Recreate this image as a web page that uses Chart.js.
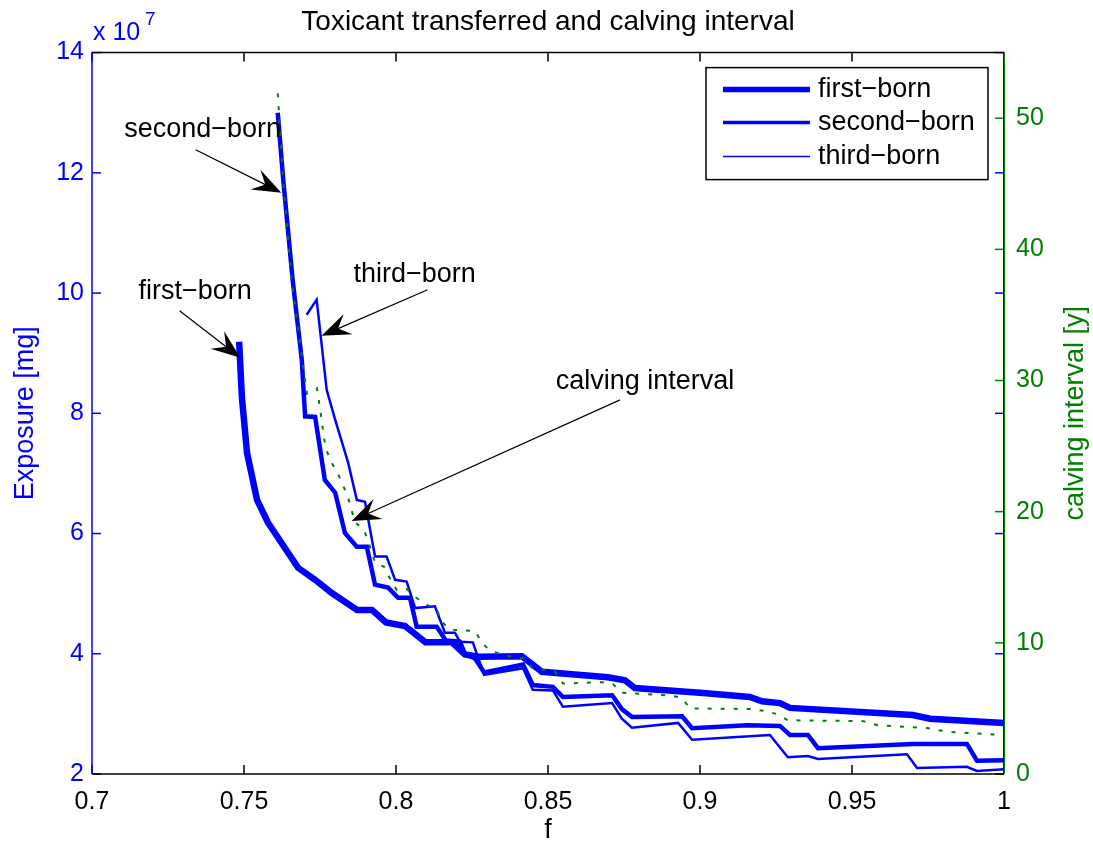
<!DOCTYPE html>
<html>
<head>
<meta charset="utf-8">
<script src="https://cdn.jsdelivr.net/npm/chart.js@4.4.1/dist/chart.umd.min.js"></script>
<style>
  html, body { margin: 0; background: #fff; }
  #wrap { width: 1093px; height: 847px; }
</style>
</head>
<body>
<div id="wrap"><canvas id="c" width="1093" height="847"></canvas></div>
<script>
const FONT = "'Liberation Sans', Arial, Helvetica, sans-serif";
const BLUE = '#0000ff';
const GREEN = '#008000';

const xTicks = [0.7, 0.75, 0.8, 0.85, 0.9, 0.95, 1];
const exposureTicks = [2, 4, 6, 8, 10, 12, 14];
const calvingTicks = [0, 10, 20, 30, 40, 50];

// exposure values are in units of 10^7 mg (axis shows "x 10^7")
const firstF = [0.7484, 0.7493, 0.751, 0.7543, 0.7579, 0.7678, 0.7734, 0.7789, 0.7872, 0.7921, 0.7967, 0.803, 0.804, 0.8097, 0.8184, 0.8227, 0.827, 0.8414, 0.848, 0.8697, 0.8753, 0.8786, 0.9, 0.9164, 0.9204, 0.9263, 0.9296, 0.97, 0.9757, 1.0];
const firstExp = [9.19, 8.27, 7.34, 6.56, 6.18, 5.43, 5.23, 5.01, 4.73, 4.73, 4.52, 4.46, 4.42, 4.19, 4.19, 3.99, 3.95, 3.96, 3.70, 3.61, 3.56, 3.43, 3.35, 3.28, 3.21, 3.18, 3.10, 2.98, 2.92, 2.85];

const secondF = [0.7611, 0.7629, 0.766, 0.769, 0.7701, 0.7734, 0.7766, 0.78, 0.7832, 0.7871, 0.7904, 0.7931, 0.7974, 0.8007, 0.8046, 0.8068, 0.8134, 0.8164, 0.821, 0.8227, 0.826, 0.829, 0.8418, 0.845, 0.8516, 0.8549, 0.8711, 0.8743, 0.8776, 0.8941, 0.8974, 0.9155, 0.9263, 0.9296, 0.9355, 0.9388, 0.97, 0.9878, 0.9911, 1.0];
const secondExp = [13.0, 11.89, 10.22, 8.89, 7.95, 7.94, 6.89, 6.68, 6.01, 5.78, 5.78, 5.15, 5.10, 4.93, 4.93, 4.45, 4.45, 4.22, 4.20, 4.00, 3.92, 3.69, 3.82, 3.48, 3.45, 3.28, 3.31, 3.08, 2.95, 2.96, 2.76, 2.81, 2.80, 2.65, 2.65, 2.43, 2.50, 2.50, 2.22, 2.23];

const thirdF = [0.7706, 0.7739, 0.7761, 0.7772, 0.78, 0.7843, 0.7871, 0.7898, 0.7931, 0.7969, 0.7997, 0.8035, 0.8063, 0.8128, 0.8161, 0.8194, 0.821, 0.8253, 0.8265, 0.829, 0.8418, 0.845, 0.8516, 0.8549, 0.8711, 0.8743, 0.8776, 0.8928, 0.8974, 0.923, 0.9289, 0.9355, 0.9388, 0.9681, 0.9714, 0.9878, 0.9911, 1.0];
const thirdExp = [9.64, 9.89, 8.89, 8.39, 7.89, 7.17, 6.56, 6.53, 5.62, 5.62, 5.23, 5.20, 4.76, 4.79, 4.35, 4.35, 4.20, 4.19, 4.01, 3.65, 3.76, 3.40, 3.39, 3.12, 3.18, 2.92, 2.77, 2.85, 2.57, 2.65, 2.28, 2.30, 2.25, 2.33, 2.10, 2.12, 2.05, 2.08];

// calving interval in years (right axis)
const calvF = [0.7611, 0.7629, 0.7657, 0.7707, 0.774, 0.7753, 0.7763, 0.7773, 0.7789, 0.7809, 0.7826, 0.7842, 0.7865, 0.7895, 0.7921, 0.7931, 0.7961, 0.798, 0.8003, 0.8036, 0.8069, 0.8102, 0.8135, 0.8151, 0.8178, 0.826, 0.8283, 0.8309, 0.8385, 0.8424, 0.8447, 0.8523, 0.8549, 0.8678, 0.8714, 0.8743, 0.8908, 0.8941, 0.8967, 0.9174, 0.9214, 0.9253, 0.9289, 0.9536, 0.9582, 0.9747, 0.9783, 0.9829, 1.0];
const calvYears = [51.9, 45.2, 37.6, 29.0, 29.4, 27.4, 25.6, 24.6, 23.7, 22.9, 22.0, 21.1, 19.2, 18.6, 16.9, 16.1, 15.8, 14.9, 14.0, 14.1, 13.4, 12.9, 12.5, 11.6, 11.0, 10.9, 10.0, 9.4, 8.9, 8.8, 8.1, 7.8, 6.9, 7.0, 6.85, 6.2, 5.97, 5.8, 5.0, 4.95, 4.8, 4.57, 4.1, 4.03, 3.73, 3.5, 3.35, 3.2, 2.97];

const pts = (xs, ys) => xs.map((x, i) => ({ x: x, y: ys[i] }));
const fixTicks = list => scale => { scale.ticks = list.map(v => ({ value: v })); };

// text + arrow annotations, placed in data coordinates (f, exposure)
const notes = [
  { text: 'second\u2212born', tx: 0.7364, ty: 12.72, x0: 0.7341, y0: 12.385, x1: 0.7623, y1: 11.67 },
  { text: 'third\u2212born', tx: 0.8061, ty: 10.30, x0: 0.8104, y0: 10.055, x1: 0.7755, y1: 9.29 },
  { text: 'first\u2212born', tx: 0.7339, ty: 10.02, x0: 0.7288, y0: 9.706, x1: 0.7488, y1: 8.924 },
  { text: 'calving interval', tx: 0.8819, ty: 8.52, x0: 0.8737, y0: 8.224, x1: 0.7854, y1: 6.21 }
];

function seg(ctx, x0, y0, x1, y1) {
  ctx.beginPath(); ctx.moveTo(x0, y0); ctx.lineTo(x1, y1); ctx.stroke();
}

function arrow(ctx, x0, y0, x1, y1) {
  const ang = Math.atan2(y1 - y0, x1 - x0);
  const L = 29, W = 11, N = 18;
  const c = Math.cos(ang), s = Math.sin(ang);
  ctx.strokeStyle = '#000'; ctx.lineWidth = 1.2;
  seg(ctx, x0, y0, x1 - c * N, y1 - s * N);
  ctx.fillStyle = '#000';
  ctx.beginPath();
  ctx.moveTo(x1, y1);
  ctx.lineTo(x1 - c * L - s * W, y1 - s * L + c * W);
  ctx.lineTo(x1 - c * N, y1 - s * N);
  ctx.lineTo(x1 - c * L + s * W, y1 - s * L - c * W);
  ctx.closePath();
  ctx.fill();
}

const frame = {
  id: 'frame',
  afterDraw(chart) {
    const { ctx, chartArea: a, scales } = chart;
    const tl = 9;
    ctx.save();

    // inward tick marks
    ctx.lineWidth = 1.5;
    ctx.strokeStyle = '#000';
    xTicks.forEach(v => {
      const px = scales.x.getPixelForValue(v);
      seg(ctx, px, a.bottom, px, a.bottom - tl);
      seg(ctx, px, a.top, px, a.top + tl);
    });
    ctx.strokeStyle = BLUE;
    exposureTicks.forEach(v => {
      const py = scales.y.getPixelForValue(v);
      seg(ctx, a.left, py, a.left + tl, py);
      seg(ctx, a.right, py, a.right - tl, py);
    });
    ctx.strokeStyle = GREEN;
    calvingTicks.forEach(v => {
      const py = scales.y1.getPixelForValue(v);
      seg(ctx, a.right, py, a.right - tl, py);
    });

    // box
    ctx.strokeStyle = '#000';
    seg(ctx, a.left, a.top, a.right, a.top);
    seg(ctx, a.left, a.bottom, a.right, a.bottom);
    ctx.strokeStyle = BLUE;
    seg(ctx, a.left, a.top, a.left, a.bottom);
    ctx.lineWidth = 1;
    seg(ctx, a.right - 0.5, a.top, a.right - 0.5, a.bottom);
    ctx.strokeStyle = GREEN;
    seg(ctx, a.right + 0.5, a.top, a.right + 0.5, a.bottom);

    // exponent label
    ctx.fillStyle = BLUE;
    ctx.textBaseline = 'alphabetic';
    ctx.textAlign = 'left';
    ctx.font = '25px ' + FONT;
    ctx.fillText('x 10', a.left + 1, a.top - 13);
    ctx.font = '19px ' + FONT;
    ctx.fillText('7', a.left + 53, a.top - 28);

    // right axis title
    ctx.save();
    ctx.translate(1076, (a.top + a.bottom) / 2);
    ctx.rotate(-Math.PI / 2);
    ctx.fillStyle = GREEN;
    ctx.font = '27px ' + FONT;
    ctx.textAlign = 'center';
    ctx.textBaseline = 'middle';
    ctx.fillText('calving interval [y]', 0, 0);
    ctx.restore();

    // legend
    const bx0 = a.right - 298, by0 = a.top + 15, bx1 = a.right - 16, by1 = a.top + 127;
    ctx.fillStyle = '#fff';
    ctx.fillRect(bx0, by0, bx1 - bx0, by1 - by0);
    ctx.strokeStyle = '#000';
    ctx.lineWidth = 1.5;
    ctx.strokeRect(bx0, by0, bx1 - bx0, by1 - by0);
    const rows = [22, 55, 89];
    ctx.font = '27px ' + FONT;
    ctx.textBaseline = 'middle';
    ctx.textAlign = 'left';
    chart.data.datasets.slice(0, 3).forEach((ds, i) => {
      const y = by0 + rows[i];
      ctx.strokeStyle = ds.borderColor;
      ctx.lineWidth = ds.borderWidth - 1;
      seg(ctx, bx0 + 17, y, bx0 + 104, y);
      ctx.fillStyle = '#000';
      ctx.fillText(ds.label, bx0 + 112, y);
    });

    // annotations
    ctx.font = '27px ' + FONT;
    ctx.textAlign = 'center';
    ctx.textBaseline = 'middle';
    notes.forEach(n => {
      ctx.fillStyle = '#000';
      ctx.fillText(n.text, scales.x.getPixelForValue(n.tx), scales.y.getPixelForValue(n.ty));
      arrow(ctx,
        scales.x.getPixelForValue(n.x0), scales.y.getPixelForValue(n.y0),
        scales.x.getPixelForValue(n.x1), scales.y.getPixelForValue(n.y1));
    });

    ctx.restore();
  }
};

new Chart(document.getElementById('c'), {
  type: 'line',
  data: {
    datasets: [
      { label: 'first\u2212born', data: pts(firstF, firstExp), borderColor: BLUE, borderWidth: 6.5, yAxisID: 'y', order: 4 },
      { label: 'second\u2212born', data: pts(secondF, secondExp), borderColor: BLUE, borderWidth: 4.5, yAxisID: 'y', order: 3 },
      { label: 'third\u2212born', data: pts(thirdF, thirdExp), borderColor: BLUE, borderWidth: 2.5, yAxisID: 'y', order: 2 },
      { label: 'calving interval', data: pts(calvF, calvYears), borderColor: GREEN, borderWidth: 2, borderDash: [4, 9], yAxisID: 'y1', order: 1 }
    ]
  },
  options: {
    responsive: false,
    animation: false,
    elements: {
      point: { radius: 0 },
      line: { tension: 0, fill: false }
    },
    layout: { padding: 0 },
    plugins: {
      legend: { display: false },
      tooltip: { enabled: false },
      title: {
        display: true,
        fullSize: false,
        text: 'Toxicant transferred and calving interval',
        color: '#000',
        font: { family: FONT, size: 28, weight: 'normal' },
        padding: { top: 5, bottom: 14 }
      }
    },
    scales: {
      x: {
        type: 'linear',
        min: 0.7,
        max: 1,
        afterBuildTicks: fixTicks(xTicks),
        afterFit: s => { s.height = 73; },
        grid: { display: false, drawTicks: false },
        border: { display: false },
        ticks: {
          color: '#000',
          padding: 13,
          font: { family: FONT, size: 25 },
          callback: v => String(v)
        },
        title: { display: true, text: 'f', color: '#000', font: { family: FONT, size: 27 }, padding: { top: 0, bottom: 0 } }
      },
      y: {
        position: 'left',
        min: 2,
        max: 14,
        afterBuildTicks: fixTicks(exposureTicks),
        afterFit: s => { s.width = 92; },
        grid: { display: false, drawTicks: false },
        border: { display: false },
        ticks: { color: BLUE, padding: 8, font: { family: FONT, size: 25 } },
        title: { display: true, text: 'Exposure [mg]', color: BLUE, font: { family: FONT, size: 27 }, padding: { top: 9, bottom: 0 } }
      },
      y1: {
        position: 'right',
        min: 0,
        max: 55,
        afterBuildTicks: fixTicks(calvingTicks),
        afterFit: s => { s.width = 89; },
        grid: { display: false, drawTicks: false },
        border: { display: false },
        ticks: { color: GREEN, padding: 12, font: { family: FONT, size: 25 } }
      }
    }
  },
  plugins: [frame]
});
</script>
</body>
</html>
